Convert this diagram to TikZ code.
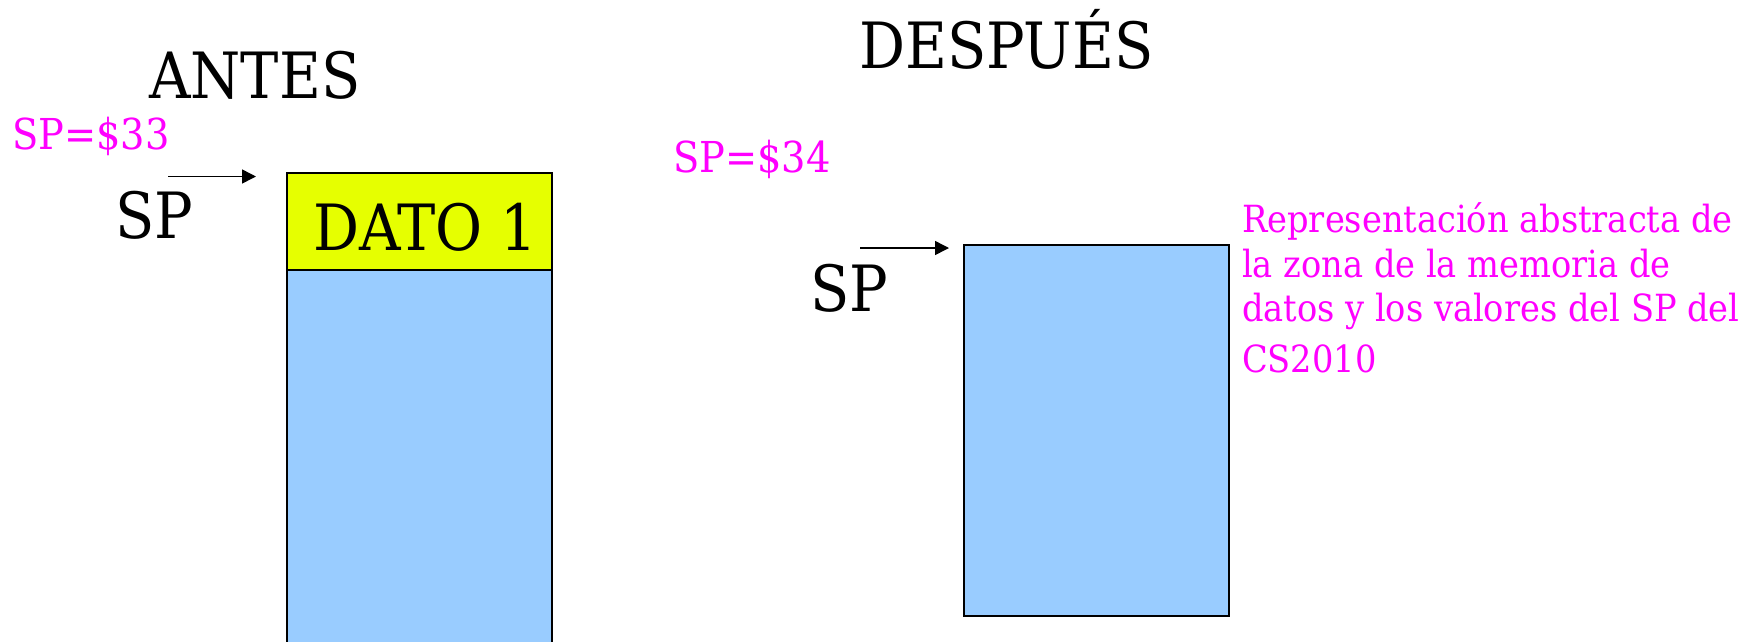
\documentclass[tikz,border=0pt]{standalone}
\usepackage{fontspec}
\setmainfont{DejaVu Serif Condensed}
\usetikzlibrary{arrows.meta}
\definecolor{memblue}{HTML}{99CCFF}
\definecolor{datoyellow}{HTML}{E6FF00}
\definecolor{note}{HTML}{FF00FF}
\begin{document}
\begin{tikzpicture}[x=1pt,y=-1pt,
  big/.style={inner sep=0pt, anchor=base west, font=\fontsize{63.8}{68}\selectfont},
  val/.style={inner sep=0pt, anchor=base west, text=note, font=\fontsize{42.6}{48}\selectfont},
  remark/.style={inner sep=0pt, anchor=base west, text=note, font=\fontsize{37.4}{44}\selectfont},
  cell/.style={draw=black, line width=2pt, anchor=north west, inner sep=0pt, outer sep=0pt, minimum width=265pt},
  ptr/.style={line width=1.5pt, -{Triangle[length=14pt,width=14pt]}}]
\useasboundingbox (0,0) rectangle (1752,641);
\clip (0,0) rectangle (1752,641);

% --- before the instruction ---
\node[big] (antes) at (149,98) {ANTES};
\node[val] (sp33) at (12,149) {SP=\$33};
\node[big] (spA) at (115,238) {SP};
\node[cell, fill=memblue, minimum height=400pt] (memA) at (287,270) {};
\node[cell, fill=datoyellow, minimum height=97pt] (dato) at (287,173) {};
\node[big, anchor=base] (datotxt) at (425.5,250) {DATO 1};
\coordinate (pA0) at (168,176.5);
\coordinate (pA1) at (256,176.5);
\draw[ptr] (pA0) -- (pA1);

% --- after the instruction ---
\node[big] (despues) at (859,68) {DESPUÉS};
\node[val] (sp34) at (673,172) {SP=\$34};
\node[big] (spB) at (810,311) {SP};
\node[cell, fill=memblue, minimum height=371pt] (memB) at (964,245) {};
\coordinate (pB0) at (860,248);
\coordinate (pB1) at (949,248);
\draw[ptr] (pB0) -- (pB1);

% --- explanatory note ---
\node[remark] (n1) at (1242,232) {Representación abstracta de};
\node[remark] (n2) at (1242,277) {la zona de la memoria de};
\node[remark] (n3) at (1242,321) {datos y los valores del SP del};
\node[remark] (n4) at (1242,372) {CS2010};
\end{tikzpicture}
\end{document}
